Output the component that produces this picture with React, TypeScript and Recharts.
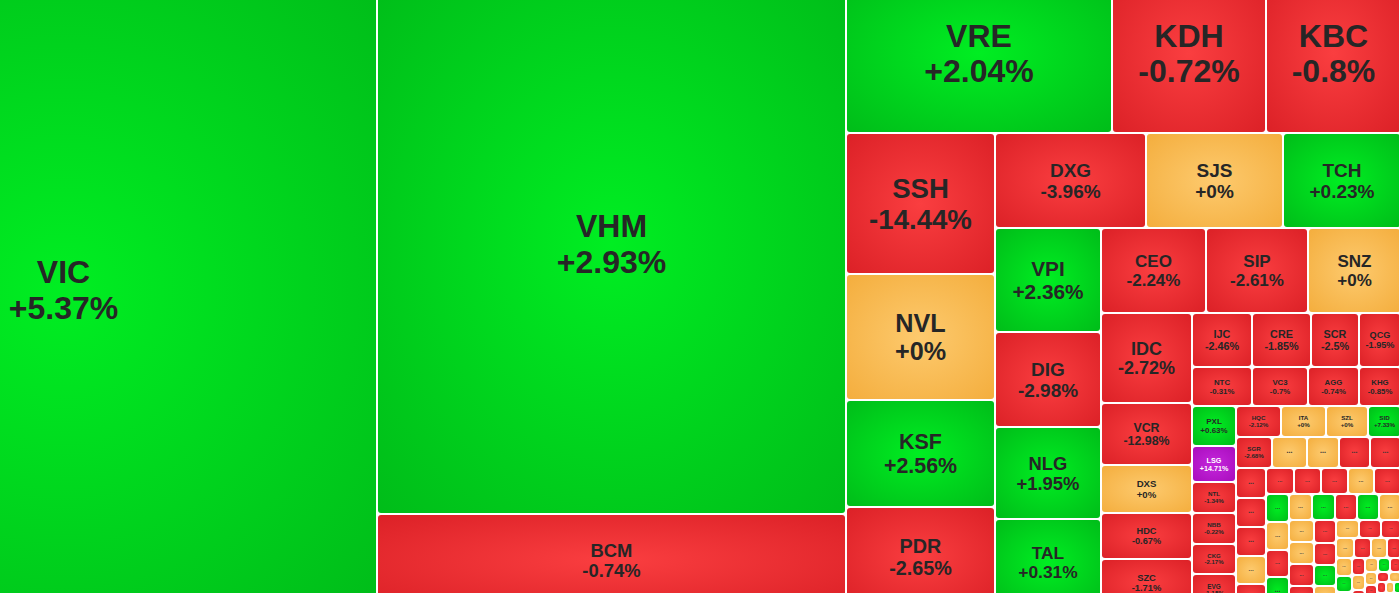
import { Treemap } from "recharts";

// real-estate heatmap: tile area ~ weight, colour ~ daily change
const tickers = [
  "VIC", "VHM", "BCM", "VRE", "KDH", "KBC", "SSH", "NVL", "KSF", "PDR",
  "DXG", "SJS", "TCH", "VPI", "DIG", "NLG", "TAL", "CEO", "SIP", "SNZ",
  "IDC", "VCR", "DXS", "HDC", "SZC", "IJC", "CRE", "SCR", "QCG", "NTC",
  "VC3", "AGG", "KHG", "PXL", "LSG", "NTL", "NBB", "CKG", "EVG", "HQC",
  "ITA", "SZL", "SID", "SGR",
];
const changes = [
  5.37, 2.93, -0.74, 2.04, -0.72, -0.8, -14.44, 0, 2.56, -2.65,
  -3.96, 0, 0.23, 2.36, -2.98, 1.95, 0.31, -2.24, -2.61, 0,
  -2.72, -12.98, 0, -0.67, -1.71, -2.46, -1.85, -2.5, -1.95, -0.31,
  -0.7, -0.74, -0.85, 0.63, 14.71, -1.34, -0.22, -2.17, -1.15, -2.12,
  0, 0, 7.33, -2.68,
];
const weights = [
  396574, 253964, 42914, 42533, 24717, 21587, 20939, 18711, 15890, 14900,
  14298, 13015, 11163, 10972, 10023, 9706, 9126, 8925, 8670, 7863,
  8150, 5600, 4400, 4200, 4300, 3240, 3186, 2592, 2295, 2340,
  2184, 1989, 1658, 1780, 1600, 1390, 1380, 1340, 1380, 1380,
  1380, 1296, 976, 1110,
];
const ceilingTickers = ["LSG"];

// how many tiles sit in each strip of the heatmap, in order
const stripSizes = [1, 2, 3, 4, 3, 4, 3, 5, 4, 4, 6, 4];

// the small unlabeled tiles at the bottom right (-1 down, 0 flat, 1 up)
const smallWeights = [
  1070, 1000, 960, 925, 888, 884, 858, 832, 736, 736, 713, 700, 680, 660, 648,
  640, 621, 620, 600, 594, 580, 567, 560, 552, 540, 540, 520, 500, 480, 460,
  440, 420, 400, 380, 360, 340, 320, 300, 280, 260, 240, 220, 200, 190, 180,
  170, 160, 150, 140, 130, 120, 110, 100, 90, 80, 70, 60, 50, 45, 40, 35, 30,
];
const smallMoves = [
  0, 0, -1, -1, -1, -1, -1, 0, -1, -1, -1, -1, 0, -1, 1,
  0, -1, 1, 0, 1, -1, 1, 0, 0, 0, -1, -1, -1, -1, 1,
  0, 0, -1, -1, 0, -1, 0, -1, 0, 1, 0, -1, 0, -1, 0,
  1, -1, 0, -1, 0, -1, 0, -1, 0, 1, -1, 0, -1, 0, -1, 0, -1,
];

type Leaf = { name: string; size: number; change: number; small?: boolean };

const leaves: Leaf[] = tickers.map((t, i) => ({ name: t, size: weights[i], change: changes[i] }));
const smallLeaves: Leaf[] = smallWeights.map((w, i) => ({
  name: "...",
  size: w,
  change: smallMoves[i],
  small: true,
}));

// nest strips so the squarified layout keeps each strip together
const buildData = () => {
  const strips: Leaf[][] = [];
  let pos = 0;
  stripSizes.forEach((n) => {
    strips.push(leaves.slice(pos, pos + n));
    pos += n;
  });
  let node: any = { name: "rest", children: [...leaves.slice(pos), ...smallLeaves] };
  for (let i = strips.length - 1; i >= 0; i--) {
    node = { name: "g" + i, children: [{ name: "s" + i, children: strips[i] }, node] };
  }
  return node.children;
};
const data = buildData();

const charW: Record<string, number> = {
  "+": 0.584, "-": 0.333, ".": 0.278, "%": 0.889, I: 0.278, J: 0.556, L: 0.611,
  M: 0.833, W: 0.944, E: 0.667, F: 0.611, S: 0.667, Z: 0.611, T: 0.611, P: 0.667,
  K: 0.722, B: 0.722, C: 0.722, D: 0.722, G: 0.778, H: 0.722, N: 0.722, R: 0.722,
  V: 0.667, X: 0.667, Q: 0.778, A: 0.722, O: 0.778, Y: 0.667, U: 0.722,
};
const textEm = (s: string) =>
  s.split("").reduce((a, c) => a + (charW[c] ?? (c >= "0" && c <= "9" ? 0.556 : 0.7)), 0);

const fmt = (c: number) => (c === 0 ? "+0%" : (c > 0 ? "+" : "") + c + "%");

const palette = (name: string, change: number) => {
  if (ceilingTickers.includes(name)) return ["#c526dc", "#a90dbd"];
  if (change > 0) return ["#00ee22", "#00bd19"];
  if (change < 0) return ["#fa3e40", "#dc2127"];
  return ["#fdca6e", "#f4ae3e"];
};

const renderTile = (p: any) => {
  const { x, y, width, height, name, change, small, children } = p;
  if ((children && children.length) || !width || !height || width < 2 || height < 2) return <g />;
  const id = `t${Math.round(x)}_${Math.round(y)}`;
  const [c0, c1] = palette(name, change);
  const cx = x + width / 2;
  const cy = y + height / 2;
  const textFill = ceilingTickers.includes(name) ? "#ffffff" : "#262626";
  let label = null;
  if (small) {
    const fs = Math.min(8, height * 0.25, width / 2.2);
    if (fs >= 3)
      label = (
        <text x={cx} y={cy + fs * 0.1} textAnchor="middle" fontSize={fs} fontWeight={700} fill="#333">
          ...
        </text>
      );
  } else {
    const line2 = fmt(change);
    const em = Math.max(textEm(name), textEm(line2));
    const fs = Math.min(32, height * 0.2, (width * 0.69) / em);
    label = (
      <g fontFamily="'Liberation Sans', Arial, sans-serif" fontWeight={700} fill={textFill} textAnchor="middle">
        <text x={cx} y={cy - fs * 0.19} fontSize={fs}>
          {name}
        </text>
        <text x={cx} y={cy + fs * 0.91} fontSize={fs}>
          {line2}
        </text>
      </g>
    );
  }
  return (
    <g>
      <defs>
        <radialGradient id={id} cx="50%" cy="50%" r="70%">
          <stop offset="0%" stopColor={c0} />
          <stop offset="100%" stopColor={c1} />
        </radialGradient>
      </defs>
      <rect
        x={x + 1}
        y={y + 1}
        width={width - 2}
        height={height - 2}
        rx={Math.min(3, width / 4)}
        fill={`url(#${id})`}
      />
      {label}
    </g>
  );
};

export default function App() {
  return (
    <div
      style={{
        position: "fixed",
        left: 0,
        top: 0,
        width: 1399,
        height: 593,
        overflow: "hidden",
        background: "#ffffff",
      }}
    >
      <div style={{ position: "absolute", left: -250, top: -27 }}>
        <Treemap
          width={1651}
          height={633}
          data={data}
          dataKey="size"
          nameKey="name"
          aspectRatio={1}
          isAnimationActive={false}
          content={renderTile}
        />
      </div>
    </div>
  );
}
